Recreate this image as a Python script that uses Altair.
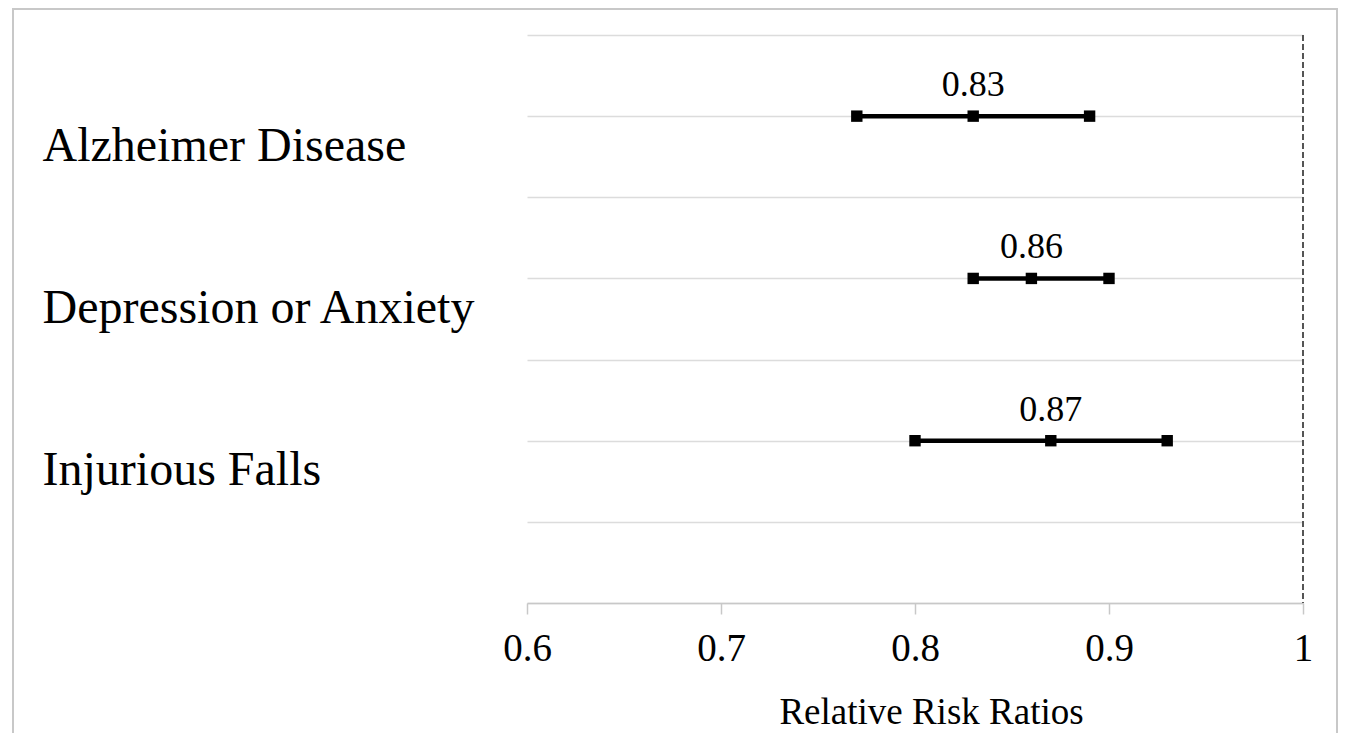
import altair as alt
import pandas as pd

categories = ["Alzheimer Disease", "Depression or Anxiety", "Injurious Falls"]
estimates = [0.83, 0.86, 0.87]
lower = [0.77, 0.83, 0.80]
upper = [0.89, 0.90, 0.93]
x_ticks = [0.6, 0.7, 0.8, 0.9, 1.0]
reference = [1.0]

FONT = "Liberation Serif"
n = len(categories)
rows = [2 * (n - i) for i in range(n)]          # row slots, top to bottom
grid_rows = list(range(2 * n + 2))              # gridline slots

df = pd.DataFrame({"category": categories, "est": estimates,
                   "low": lower, "high": upper, "row": rows})
pts = df.melt(id_vars=["category", "row"], value_vars=["low", "est", "high"],
              var_name="kind", value_name="value")
ref_df = pd.DataFrame({"ref": reference})

label_expr = "".join(f"datum.value == {r} ? '{c}' : " for r, c in zip(rows, categories)) + "''"

x_scale = alt.Scale(domain=[0.6, 1.0], nice=False, zero=False)
y_scale = alt.Scale(domain=[0, 2 * n + 1], nice=False, zero=True)

x_axis = alt.Axis(values=x_ticks, format=".1~f", grid=False,
                  domainColor="#c8c8c8", domainWidth=1.5,
                  tickColor="#c8c8c8", tickSize=11, tickWidth=1.5,
                  labelFont=FONT, labelFontSize=39, labelColor="black",
                  labelPadding=46, labelBaseline="alphabetic", labelFlush=False,
                  labelOverlap=False,
                  title="Relative Risk Ratios", titleFont=FONT, titleFontSize=37,
                  titleFontWeight="normal", titleColor="black",
                  titleX=404, titleY=120, titleBaseline="alphabetic", titleAlign="center")
y_axis = alt.Axis(values=grid_rows, labelExpr=label_expr, grid=True,
                  gridColor="#dcdcdc", gridWidth=1.5, domain=False, ticks=False,
                  tickSize=0, labelAlign="left", labelPadding=485, labelOffset=30,
                  labelFont=FONT, labelFontSize=48, labelColor="black",
                  labelLimit=1000, labelOverlap=False, title=None)


def X(field):
    return alt.X(field, type="quantitative", scale=x_scale, axis=x_axis, title="Relative Risk Ratios")


def Y(field):
    return alt.Y(field, type="quantitative", scale=y_scale, axis=y_axis, title=None)


frame = alt.Chart(pd.DataFrame({"k": [0]})).mark_rect(
    fillOpacity=0, stroke="#c8c8c8", strokeWidth=2
).encode(x=alt.value(-514), x2=alt.value(810), y=alt.value(-26), y2=alt.value(720))

ci = alt.Chart(df).mark_rule(color="black", strokeWidth=4.5).encode(
    x=X("low"), x2="high", y=Y("row"))

ref_line = alt.Chart(ref_df).mark_rule(color="#555555", strokeWidth=2, strokeDash=[6, 3]).encode(
    x=X("ref"))

squares = alt.Chart(pts).mark_square(size=130, color="black", opacity=1).encode(
    x=X("value"), y=Y("row"))

labels = alt.Chart(df).mark_text(font=FONT, fontSize=36, color="black",
                                 baseline="alphabetic", dy=-20).encode(
    x=X("est"), y=Y("row"), text=alt.Text("est:Q", format=".2f"))

chart = alt.layer(ci, ref_line, squares, labels, frame).properties(
    width=776, height=568,
    padding={"left": 519, "top": 27, "right": 35, "bottom": 130},
    autosize=alt.AutoSizeParams(type="none"),
).configure_view(stroke=None)

chart.save("out.html", embed_options={"renderer": "svg", "actions": False})
